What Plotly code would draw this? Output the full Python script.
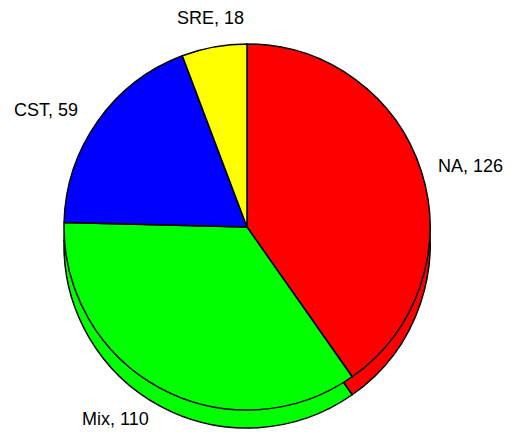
# 3D-style pie of category counts (NA / Mix / CST / SRE)
import plotly.graph_objects as go

# %%
# 0. Data
categories = ["NA", "Mix", "CST", "SRE"]
counts = [126, 110, 59, 18]
slice_colors = ["#FF0000", "#00FF00", "#0000FF", "#FFFF00"]

W, H = 512, 432
PAGE_OFF = 8  # default body margin of the html page

# pixel boxes for the top face and the shifted "depth" face
cx, r = 247 - PAGE_OFF, 183
top_cy = 227 - PAGE_OFF
depth = 18

# label centres in page pixels (Excel-style placement)
label_pos = {"NA": (470, 166), "Mix": (115, 419), "CST": (46, 110), "SRE": (210, 18)}


def dom(cy):
    return dict(
        x=[(cx - r) / W, (cx + r) / W],
        y=[1 - (cy + r) / H, 1 - (cy - r) / H],
    )


# %%
# 1. Figure: a back pie shifted down gives the rim, the front pie is the top face
fig = go.Figure()

for cy, is_top in [(top_cy + depth, False), (top_cy, True)]:
    fig.add_trace(
        go.Pie(
            labels=categories,
            values=counts,
            sort=False,
            direction="clockwise",
            rotation=0,
            marker=dict(colors=slice_colors, line=dict(color="black", width=1.5)),
            textinfo="none",
            hoverinfo="label+value" if is_top else "skip",
            domain=dom(cy),
            showlegend=False,
        )
    )

# %%
# 2. Category labels
for cat, val in zip(categories, counts):
    px, py = label_pos[cat]
    fig.add_annotation(
        x=(px - PAGE_OFF) / W,
        y=1 - (py - PAGE_OFF) / H,
        xref="paper",
        yref="paper",
        text=f"{cat}, {val}",
        showarrow=False,
        xanchor="center",
        yanchor="middle",
        font=dict(family="Liberation Sans, Arial", size=18, color="black"),
    )

fig.update_layout(
    width=W,
    height=H,
    margin=dict(l=0, r=0, t=0, b=0),
    paper_bgcolor="white",
    plot_bgcolor="white",
)

fig.write_html("out.html")
